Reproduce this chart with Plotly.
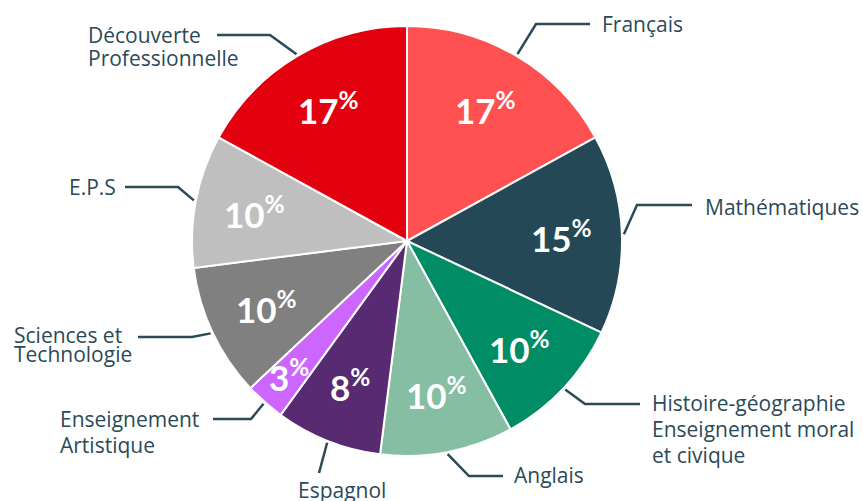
import math
import plotly.graph_objects as go

# ---- data ----
subjects = ["Français", "Mathématiques", "Histoire-géographie Enseignement moral et civique",
            "Anglais", "Espagnol", "Enseignement Artistique", "Sciences et Technologie",
            "E.P.S", "Découverte Professionnelle"]
label_lines = [["Français"], ["Mathématiques"],
               ["Histoire-géographie", "Enseignement moral", "et civique"],
               ["Anglais"], ["Espagnol"], ["Enseignement", "Artistique"],
               ["Sciences et", "Technologie"], ["E.P.S"], ["Découverte", "Professionnelle"]]
shares = [17, 15, 10, 10, 8, 3, 10, 10, 17]
colors = ["#FF5152", "#244856", "#008C65", "#86BEA3", "#582A72", "#CC66FF",
          "#808080", "#BFBFBF", "#E3000F"]

# ---- layout geometry (pixels) ----
W, H = 863, 501
CX, CY, R = 407, 241, 215
text_color = "#2B4A58"

# leader line layout: elbow point, end point, label x, label line y's
leaders = [
    dict(elbow=(536, 24), end=(590, 24), lx=600, ly=[24]),
    dict(elbow=(637, 205), end=(692, 205), lx=703, ly=[207]),
    dict(elbow=(585, 404), end=(640, 404), lx=650, ly=[403, 429, 455]),
    dict(elbow=(469, 476), end=(503, 476), lx=512, ly=[475]),
    dict(elbow=None, end=(319, 473), lx=342, ly=[490], center=True),
    dict(elbow=(251, 419), end=(213, 419), lx=58, ly=[419, 445]),
    dict(elbow=(192, 337), end=(138, 337), lx=12, ly=[335, 354]),
    dict(elbow=(178, 187), end=(125, 187), lx=67, ly=[187]),
    dict(elbow=(270, 35), end=(217, 35), lx=86, ly=[35, 58]),
]


def px(x):
    return x / W


def py(y):
    return 1 - y / H


fig = go.Figure(go.Pie(
    labels=subjects, values=shares, sort=False, direction="clockwise", rotation=0,
    marker=dict(colors=colors, line=dict(color="white", width=2)),
    textinfo="none", hoverinfo="label+percent", showlegend=False,
    domain=dict(x=[(CX - R) / W, (CX + R) / W], y=[py(CY + R), py(CY - R)]),
))

total = sum(shares)
annotations = []
shapes = []
cum = 0
for i, v in enumerate(shares):
    mid = (cum + v / 2) / total * 2 * math.pi
    cum += v
    s, c = math.sin(mid), math.cos(mid)
    # percentage label inside
    rf = 0.72 if v >= 5 else 0.83
    annotations.append(dict(
        x=px(CX + rf * R * s), y=py(CY - rf * R * c), xref="paper", yref="paper",
        text=f"{v}<sup>%</sup>", showarrow=False, xanchor="center", yanchor="middle",
        font=dict(family="Lato", size=35, color="white", weight="bold")))
    # leader line
    L = leaders[i]
    sx, sy = CX + (R + 2) * s, CY - (R + 2) * c
    pts = [(sx, sy)]
    if L["elbow"]:
        pts.append(L["elbow"])
    pts.append(L["end"])
    path = "M " + " L ".join(f"{px(a):.5f},{py(b):.5f}" for a, b in pts)
    shapes.append(dict(type="path", path=path, xref="paper", yref="paper",
                       line=dict(color=text_color, width=2.5)))
    for line_txt, yy in zip(label_lines[i], L["ly"]):
        annotations.append(dict(
            x=px(L["lx"]), y=py(yy), xref="paper", yref="paper", text=line_txt,
            showarrow=False, xanchor="center" if L.get("center") else "left",
            yanchor="middle", font=dict(family="Open Sans", size=21, color=text_color)))

fig.update_layout(
    width=W, height=H, margin=dict(l=0, r=0, t=0, b=0),
    paper_bgcolor="white", plot_bgcolor="white",
    annotations=annotations, shapes=shapes,
)

fig.write_html("out.html")
